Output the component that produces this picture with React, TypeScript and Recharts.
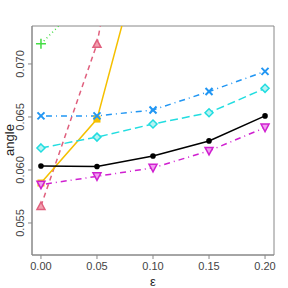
import { LineChart, Line, XAxis, YAxis, ReferenceArea } from "recharts";

const eps = [0, 0.05, 0.1, 0.15, 0.2];
const black = [0.06038, 0.06033, 0.06132, 0.06274, 0.0651];
const magenta = [0.05861, 0.0594, 0.0602, 0.0618, 0.064];
const cyan = [0.06208, 0.0631, 0.06434, 0.0654, 0.0677];
const blue = [0.0651, 0.0651, 0.06566, 0.0674, 0.0693];
const gold = [0.05877, 0.0648, 0.0846, 0.11, 0.14];
const red = [0.0566, 0.0719, 0.1, 0.13, 0.16];
const green = [0.0719, 0.0772, 0.085, 0.095, 0.105];

const xTicks = [0, 0.05, 0.1, 0.15, 0.2];
const yTicks = [0.055, 0.06, 0.065, 0.07];

const data = eps.map((e, i) => ({
  eps: e,
  black: black[i],
  magenta: magenta[i],
  cyan: cyan[i],
  blue: blue[i],
  gold: gold[i],
  red: red[i],
  green: green[i],
}));

const FONT = "'Liberation Sans', Arial, sans-serif";

const mk = (shape: string, color: string, fill: string) => (p: any) => {
  const { cx, cy, index } = p;
  if (cx == null || cy == null) return <g key={index} />;
  const s = 4;
  if (shape === "dot")
    return <circle key={index} cx={cx} cy={cy} r={2.8} fill={color} stroke="none" />;
  if (shape === "down")
    return (
      <polygon key={index}
        points={`${cx - s},${cy - s + 0.5} ${cx + s},${cy - s + 0.5} ${cx},${cy + s}`}
        fill={fill} stroke={color} strokeWidth={1.5} />
    );
  if (shape === "up")
    return (
      <polygon key={index}
        points={`${cx - s},${cy + s - 0.5} ${cx + s},${cy + s - 0.5} ${cx},${cy - s}`}
        fill={fill} stroke={color} strokeWidth={1.5} />
    );
  if (shape === "diamond")
    return (
      <polygon key={index}
        points={`${cx},${cy - s} ${cx + s},${cy} ${cx},${cy + s} ${cx - s},${cy}`}
        fill={fill} stroke={color} strokeWidth={1.5} />
    );
  if (shape === "square")
    return <rect key={index} x={cx - 3.5} y={cy - 3.5} width={7} height={7} fill={color} />;
  if (shape === "x")
    return (
      <path key={index}
        d={`M${cx - 3.5},${cy - 3.5}L${cx + 3.5},${cy + 3.5}M${cx - 3.5},${cy + 3.5}L${cx + 3.5},${cy - 3.5}`}
        stroke={color} strokeWidth={2} />
    );
  return (
    <path key={index}
      d={`M${cx - 5},${cy}L${cx + 5},${cy}M${cx},${cy - 5}L${cx},${cy + 5}`}
      stroke={color} strokeWidth={1.5} />
  );
};

const YTick = (p: any) => {
  const { x, y, payload } = p;
  return (
    <text x={x - 2} y={y} transform={`rotate(-90 ${x - 2} ${y})`} textAnchor="middle"
      fontSize={11} fill="#444" fontFamily={FONT}>
      {payload.value.toFixed(3)}
    </text>
  );
};

const XTick = (p: any) => {
  const { x, y, payload } = p;
  return (
    <text x={x} y={y + 9} textAnchor="middle" fontSize={11} fill="#444" fontFamily={FONT}>
      {payload.value.toFixed(2)}
    </text>
  );
};

export default function App() {
  return (
    <div style={{ position: "fixed", left: 0, top: 0, background: "#fff" }}>
      <LineChart width={288} height={288} data={data}
        margin={{ top: 26, right: 14, left: 0, bottom: 0 }}>
        <XAxis dataKey="eps" type="number" domain={[-0.008, 0.208]} ticks={xTicks}
          allowDataOverflow stroke="#888" tickSize={4} height={33} tick={<XTick />}
          label={{
            content: () => (
              <text x={153} y={286} textAnchor="middle" fontSize={13} fill="#222" fontFamily={FONT}>ε</text>
            ),
          }} />
        <YAxis type="number" domain={[0.05198, 0.07358]} ticks={yTicks} allowDataOverflow
          stroke="#888" tickSize={4} width={32} tick={<YTick />}
          label={{
            content: () => (
              <text x={14} y={140} transform="rotate(-90 14 140)" textAnchor="middle"
                fontSize={13} fill="#222" fontFamily={FONT}>angle</text>
            ),
          }} />
        <ReferenceArea x1={-0.008} x2={0.208} y1={0.05198} y2={0.07358}
          fill="none" stroke="#888" strokeWidth={1} ifOverflow="visible" />
        <Line dataKey="green" stroke="#44DD44" strokeWidth={1.5} strokeDasharray="1 3"
          dot={mk("plus", "#44DD44", "none")} isAnimationActive={false} />
        <Line dataKey="red" stroke="#E0607E" strokeWidth={1.5} strokeDasharray="5 4"
          dot={mk("up", "#E0607E", "#F2A0B0")} isAnimationActive={false} />
        <Line dataKey="gold" stroke="#F5C000" strokeWidth={1.5}
          dot={mk("square", "#F5C000", "#F5C000")} isAnimationActive={false} />
        <Line dataKey="blue" stroke="#2196F3" strokeWidth={1.5} strokeDasharray="1 4 6 4"
          dot={mk("x", "#2196F3", "none")} isAnimationActive={false} />
        <Line dataKey="cyan" stroke="#22DDE0" strokeWidth={1.5} strokeDasharray="8 4"
          dot={mk("diamond", "#22DDE0", "#B8F2F2")} isAnimationActive={false} />
        <Line dataKey="magenta" stroke="#D020D0" strokeWidth={1.5} strokeDasharray="1 4 6 4"
          dot={mk("down", "#D020D0", "#F0A0F0")} isAnimationActive={false} />
        <Line dataKey="black" stroke="#000" strokeWidth={1.5}
          dot={mk("dot", "#000", "#000")} isAnimationActive={false} />
      </LineChart>
    </div>
  );
}
